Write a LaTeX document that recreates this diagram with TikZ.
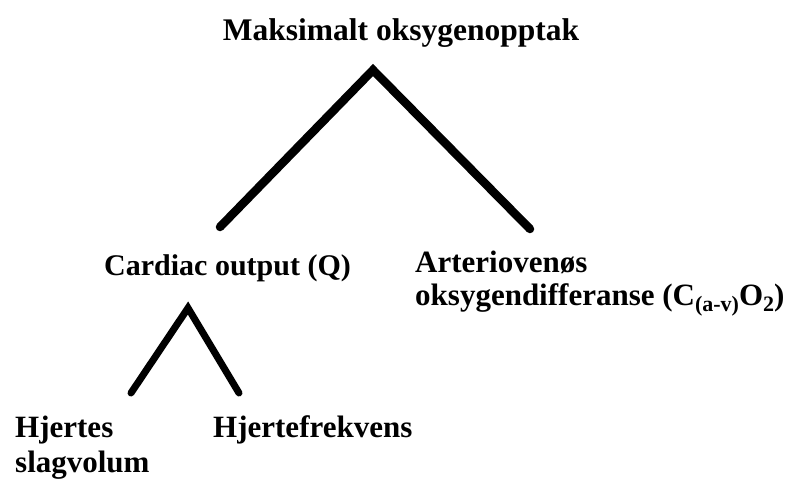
\documentclass[tikz,border=0pt]{standalone}
\usepackage{fontspec}
\setmainfont{Liberation Serif}
\tikzset{
  lbl/.style={inner sep=0pt, anchor=base west, font=\fontsize{30}{34}\selectfont\bfseries, align=left},
  biglbl/.style={lbl, font=\fontsize{31.5}{34}\selectfont\bfseries},
  midlbl/.style={lbl, font=\fontsize{31}{34}\selectfont\bfseries},
  bigline/.style={line width=8.5pt, line cap=round, line join=miter},
  smallline/.style={line width=7pt, line cap=round, line join=miter}
}
\newcommand{\mysub}[1]{\raisebox{-0.22em}{\fontsize{22}{22}\selectfont #1}}
\begin{document}
\begin{tikzpicture}[x=1pt,y=-1pt]
\useasboundingbox (0,0) rectangle (795,480);
\node[biglbl, anchor=base] (top) at (401,40) {Maksimalt oksygenopptak};
\node[lbl] (co) at (104,275) {Cardiac output (Q)};
\node[midlbl] (av1) at (415,272) {Arteriovenøs};
\node[midlbl] (av2) at (415,305) {oksygendifferanse (C\mysub{(a-v)}O\mysub{2})};
\node[midlbl] (hs1) at (15,437) {Hjertes};
\node[midlbl] (hs2) at (15,472) {slagvolum};
\node[midlbl] (hf) at (213,437) {Hjertefrekvens};
\coordinate (a1) at (373,70);
\coordinate (l1) at (220,227);
\coordinate (r1) at (530,229);
\coordinate (a2) at (188,308);
\coordinate (l2) at (131,393);
\coordinate (r2) at (239,393);
\draw[bigline] (l1) -- (a1) -- (r1);
\draw[smallline] (l2) -- (a2) -- (r2);
\end{tikzpicture}
\end{document}
